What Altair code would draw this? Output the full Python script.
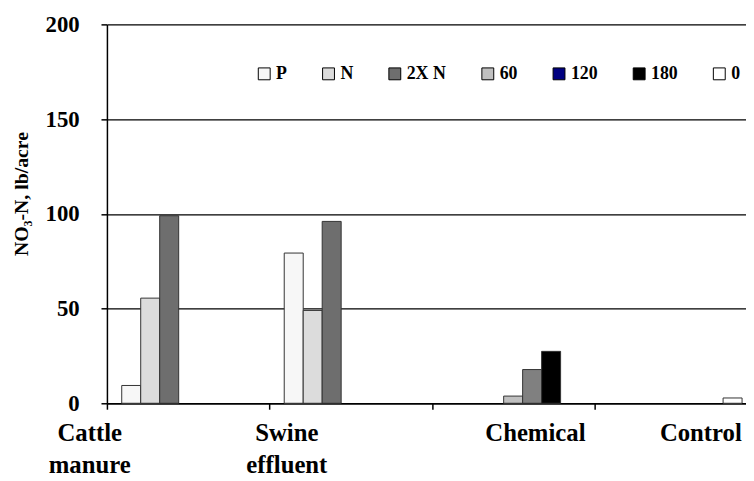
import altair as alt
import pandas as pd

categories = ["Cattle manure", "Swine effluent", "Chemical", "Control"]
series = ["P", "N", "2X N", "60", "120", "180", "0"]
# values per category, aligned with series (None = no bar)
cattle = [9.4, 55.5, 99.0, None, None, None, None]
swine = [79.3, 49.0, 96.0, None, None, None, None]
chemical = [None, None, None, 3.8, 17.8, 27.4, None]
control = [None, None, None, None, None, None, 2.8]
legend_colors = ["#f7f7f7", "#dcdcdc", "#6e6e6e", "#c0c0c0", "#000080", "#000000", "#ffffff"]
bar_120_color = "#808080"

rows = []
for cat, vals in zip(categories, [cattle, swine, chemical, control]):
    for s, v in zip(series, vals):
        if v is not None:
            rows.append({"category": cat, "series": s, "value": v})
df = pd.DataFrame(rows)

FONT = "Liberation Serif"

label_offset = alt.ExprRef(
    "datum.value == 'Cattle manure' ? -100 : datum.value == 'Swine effluent' ? -65 : "
    "datum.value == 'Chemical' ? 22 : 25"
)

chart = alt.Chart(df).mark_bar(stroke="#333333", strokeWidth=1).encode(
    x=alt.X(
        "category:N",
        sort=categories,
        scale=alt.Scale(domain=categories, range=[0, 657], paddingInner=0, paddingOuter=0),
        axis=alt.Axis(
            title=None, tickBand="extent", grid=False, labelAngle=0,
            domainColor="black", domainWidth=1.5, tickColor="black", tickWidth=1.5, tickSize=6,
            labelFont=FONT, labelFontSize=25, labelFontWeight="bold", labelColor="black",
            labelPadding=12, labelBaseline="top", labelLineHeight=32,
            labelExpr="split(datum.label, ' ')", labelOffset=label_offset,
        ),
    ),
    xOffset=alt.XOffset(
        "series:N", scale=alt.Scale(domain=series, paddingInner=0, paddingOuter=0.78)
    ),
    y=alt.Y(
        "value:Q",
        scale=alt.Scale(domain=[0, 200]),
        axis=alt.Axis(
            values=[0, 50, 100, 150, 200], title="NO₃-N, lb/acre",
            grid=True, gridColor="black", gridWidth=1.3,
            domainColor="black", domainWidth=1.5, tickColor="black", tickWidth=1.5, tickSize=6,
            labelFont=FONT, labelFontSize=23, labelFontWeight="bold", labelColor="black",
            labelPadding=22,
            titleFont=FONT, titleFontSize=20, titleFontWeight="bold", titleColor="black",
            titleX=-86, titleY=171, titleBaseline="middle",
        ),
    ),
    fill=alt.condition(
        alt.datum.series == "120",
        alt.value(bar_120_color),
        alt.Fill(
            "series:N",
            scale=alt.Scale(domain=series, range=legend_colors),
            legend=alt.Legend(
                title=None, orient="none", legendX=150, legendY=41,
                direction="horizontal", columns=7, padding=0,
                symbolType="square", symbolSize=144, symbolStrokeColor="black",
                symbolStrokeWidth=1, columnPadding=33, labelOffset=3,
                labelFont=FONT, labelFontSize=18, labelFontWeight="bold", labelColor="black",
            ),
        ),
    ),
).properties(
    width=646,
    height=383,
    autosize=alt.AutoSizeParams(type="none"),
    padding={"left": 100, "top": 14, "right": 0, "bottom": 76},
).configure_view(stroke=None)

chart.save("out.html", embed_options={"renderer": "svg", "actions": False})
